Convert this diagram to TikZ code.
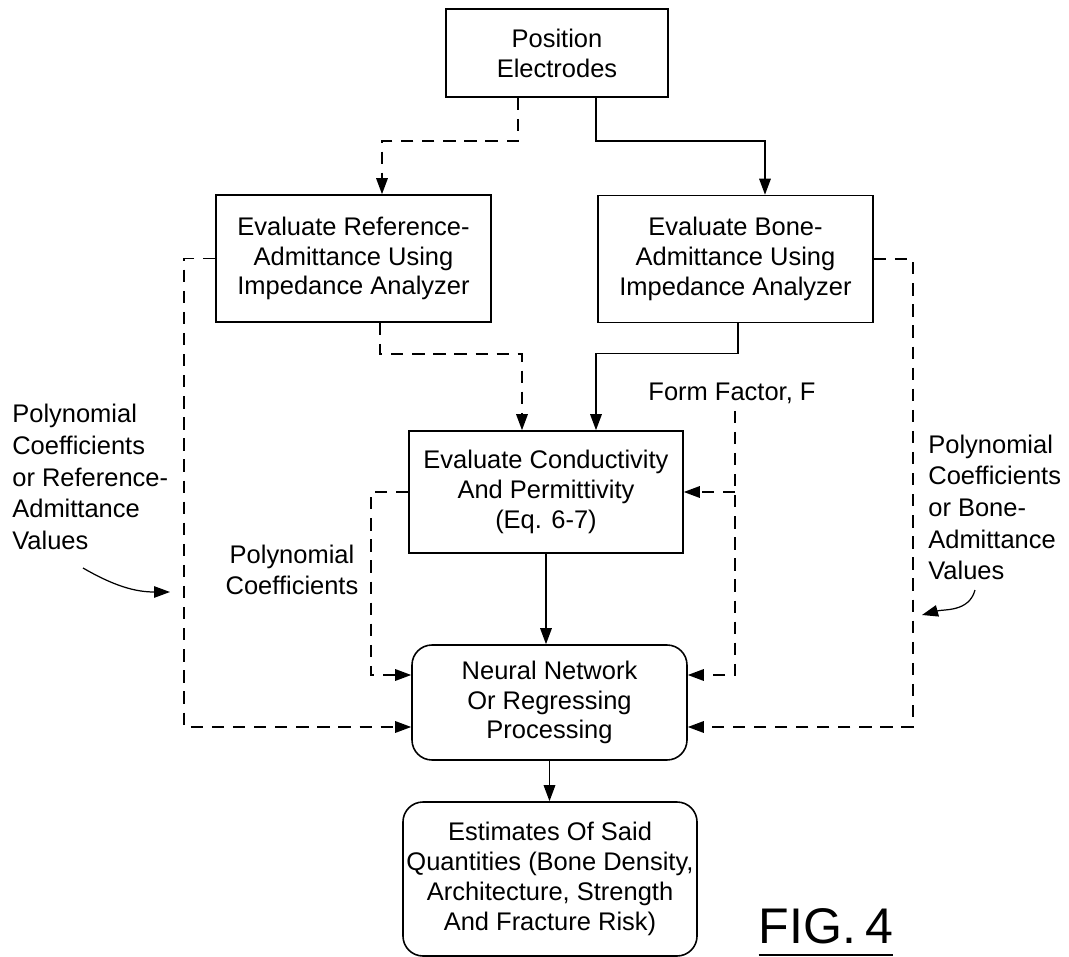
\documentclass[tikz,border=0pt]{standalone}
\usepackage{fontspec}
\setmainfont{Liberation Sans}
\usetikzlibrary{arrows.meta}
\tikzset{procbox/.style={draw,line width=0.9pt,align=center,inner sep=2pt,
   font=\fontsize{14.5}{17}\selectfont},
 roundbox/.style={procbox,rounded corners=0.4cm},
 lbl/.style={inner sep=0pt,font=\fontsize{14.5}{18}\selectfont},
 solidline/.style={line width=0.9pt,-{Triangle[length=3.2mm,width=2.3mm]}},
 dashline/.style={solidline,dash pattern=on 7pt off 5pt},
 }

\begin{document}
\begin{tikzpicture}
        \useasboundingbox (0,0) rectangle (21.38,-19.14);
        \node[procbox,minimum width=4.44cm,minimum height=1.76cm] (pe) at (11.14,-1.06)
            {Position\\Electrodes};
        \node[procbox,minimum width=5.5cm,minimum height=2.54cm] (ref) at (7.07,-5.17)
            {Evaluate Reference-\\Admittance Using\\Impedance Analyzer};
        \node[procbox,minimum width=5.5cm,minimum height=2.54cm] (bone) at (14.71,-5.18)
            {Evaluate Bone-\\Admittance Using\\Impedance Analyzer};
        \node[procbox,minimum width=5.48cm,minimum height=2.44cm] (cond) at (10.92,-9.84)
            {Evaluate Conductivity\\And Permittivity\\(Eq. 6-7)};
        \node[roundbox,minimum width=5.5cm,minimum height=2.3cm] (nn) at (10.99,-14.05)
            {Neural Network\\Or Regressing\\Processing};
        \node[roundbox,minimum width=5.88cm,minimum height=3.08cm] (est) at (11.0,-17.58)
            {Estimates Of Said\\Quantities (Bone Density,\\Architecture, Strength\\And Fracture Risk)};

        \node[lbl,anchor=west,align=left] (lleft) at (0.24,-9.54)
            {Polynomial\\Coefficients\\or Reference-\\Admittance\\Values};
        \node[lbl,anchor=west,align=left] (lright) at (18.56,-10.15)
            {Polynomial\\Coefficients\\or Bone-\\Admittance\\Values};
        \node[lbl,align=center] (lmid) at (5.84,-11.4) {Polynomial\\Coefficients};
        \node[lbl,inner sep=4pt] (formf) at (14.64,-7.86) {Form Factor, F};
        \node[inner sep=0pt,anchor=base,font=\fontsize{28.5}{30}\selectfont] (fig) at (16.52,-18.86)
            {FIG.\kern5pt4};
        \draw[line width=1.2pt] ([yshift=-0.24cm]fig.base west) -- ([yshift=-0.24cm]fig.base east);

        \draw[dashline] ([xshift=-0.78cm]pe.south) -- ++(0,-0.86) -| ([xshift=0.57cm]ref.north);
        \draw[solidline] ([xshift=0.78cm]pe.south) -- ++(0,-0.86) -| ([xshift=0.59cm]bone.north);
        \draw[dashline] ([xshift=0.53cm]ref.south) -- ++(0,-0.62) -| ([xshift=-0.48cm]cond.north);
        \draw[solidline] ([xshift=0.05cm]bone.south) -- ++(0,-0.6) -| ([xshift=1.0cm]cond.north);
        \draw[solidline] (cond.south) -- (cond.south |- nn.north);
        \draw[solidline] (nn.south) -- (nn.south |- est.north);

        \draw[dashline] (ref.west) -- ++(-0.62,0) |- ([yshift=-0.49cm]nn.west);
        \draw[dashline] (cond.west) -- ++(-0.74,0) |- ([yshift=0.55cm]nn.west);
        \draw[dashline] ([xshift=0.06cm]formf.south) |- ([yshift=0.55cm]nn.east);
        \draw[dashline] ([xshift=0.06cm]formf.south |- cond.east) -- (cond.east);
        \draw[dashline] (bone.east) -- ++(0.78,0) |- ([yshift=-0.49cm]nn.east);

        \coordinate (cl) at (1.66,-11.36);
        \coordinate (cr) at (19.5,-11.8);
        \draw[solidline,line width=0.7pt] (cl) to[out=-30,in=180] (3.4,-11.84);
        \draw[solidline,line width=0.7pt] (cr) to[out=-105,in=15] (18.44,-12.3);
    \end{tikzpicture}
\end{document}
